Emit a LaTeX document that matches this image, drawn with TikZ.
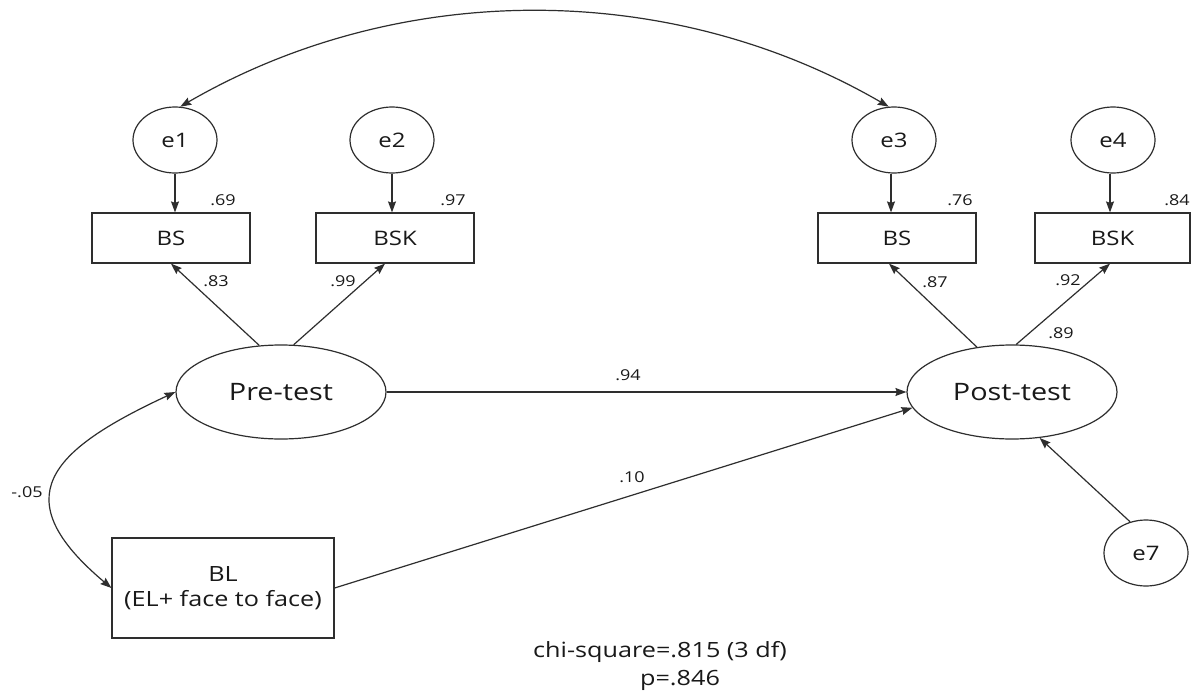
\documentclass[tikz,border=0pt]{standalone}
\usepackage{fontspec}
\setmainfont{Open Sans}[FakeStretch=1.2]
\usetikzlibrary{shapes.geometric,arrows.meta}
\begin{document}
\begin{tikzpicture}[x=1pt,y=-1pt,
  ln/.style={draw=black!82, line width=1.2pt},
  arr/.style={ln, -{Stealth[length=11pt,width=8pt,inset=1.5pt]}},
  darr/.style={ln, {Stealth[length=11pt,width=8pt,inset=1.5pt]}-{Stealth[length=11pt,width=8pt,inset=1.5pt]}},
  err/.style={ellipse, ln, minimum width=84pt, minimum height=66pt, inner sep=0pt, text=black!90, font=\fontsize{20}{24}\selectfont},
  latent/.style={ellipse, ln, minimum width=210pt, minimum height=94pt, inner sep=0pt, text=black!90, font=\fontsize{24}{28}\selectfont},
  obs/.style={rectangle, ln, minimum width=158pt, minimum height=50pt, inner sep=0pt, text=black!90, font=\fontsize{20}{24}\selectfont},
  coef/.style={inner sep=0pt, text=black!90, font=\fontsize{15}{18}\selectfont},
  note/.style={inner sep=0pt, text=black!90, font=\fontsize{21}{25}\selectfont},
]
\useasboundingbox (0,0) rectangle (1191,693);
\fill[white] (0,0) rectangle (1191,693);

% error terms
\node[err] (e1) at (175,140) {e1};
\node[err] (e2) at (392,140) {e2};
\node[err] (e3) at (894,140) {e3};
\node[err] (e4) at (1113,140) {e4};
\node[err] (e7) at (1146,553) {e7};

% observed
\node[obs] (bs1) at (171,238) {BS};
\node[obs] (bsk1) at (395,238) {BSK};
\node[obs] (bs2) at (897,238) {BS};
\node[obs, minimum width=155pt] (bsk2) at (1112.5,238) {BSK};
\node[obs, minimum width=222pt, minimum height=100pt, align=center, font=\fontsize{21}{25}\selectfont] (bl) at (223,588) {BL\\(EL+ face to face)};

% latent
\node[latent] (pre) at (281,392) {Pre-test};
\node[latent] (post) at (1012,392) {Post-test};

% coefficients
\node[coef] (c69) at (223,200) {.69};
\node[coef] (c97) at (453,200) {.97};
\node[coef] (c76) at (960,200) {.76};
\node[coef] (c84) at (1177,200) {.84};
\node[coef] (c83) at (216,281) {.83};
\node[coef] (c99) at (343,281) {.99};
\node[coef] (c87) at (935,282) {.87};
\node[coef] (c92) at (1068,280) {.92};
\node[coef] (c89) at (1061,333) {.89};
\node[coef] (c94) at (628,375) {.94};
\node[coef] (c10) at (632,477) {.10};
\node[coef] (c05) at (27,492) {-.05};

% fit note
\node[note] (chi) at (660,652) {chi-square=.815 (3 df)};
\node[note] (pv) at (680,680) {p=.846};

% connectors
\draw[arr] (e1.south) -- (e1.south |- bs1.north);
\draw[arr] (e2.south) -- (e2.south |- bsk1.north);
\draw[arr] ([xshift=-3pt]e3.south) -- ([xshift=-3pt]e3.south |- bs2.north);
\draw[arr] ([xshift=-3pt]e4.south) -- ([xshift=-3pt]e4.south |- bsk2.north);

\draw[arr] (pre.115) -- (bs1.south);
\draw[arr] (pre.75) -- ([xshift=-10pt]bsk1.south);
\draw[arr] (post.128) -- ([xshift=-8pt]bs2.south);
\draw[arr] (post.85) -- ([xshift=-2.5pt]bsk2.south);

\draw[arr] (pre.east) -- (post.west);
\draw[arr] (bl.east) -- (post.189);
\draw[arr] (e7.117) -- (post.-59);

\draw[darr] (bl.west) .. controls +(-107,-90) and +(-127,59) .. (pre.west);
\draw[darr] (e1.81) .. controls +(219,-127) and +(-219,-127) .. (e3.99);
\end{tikzpicture}
\end{document}
